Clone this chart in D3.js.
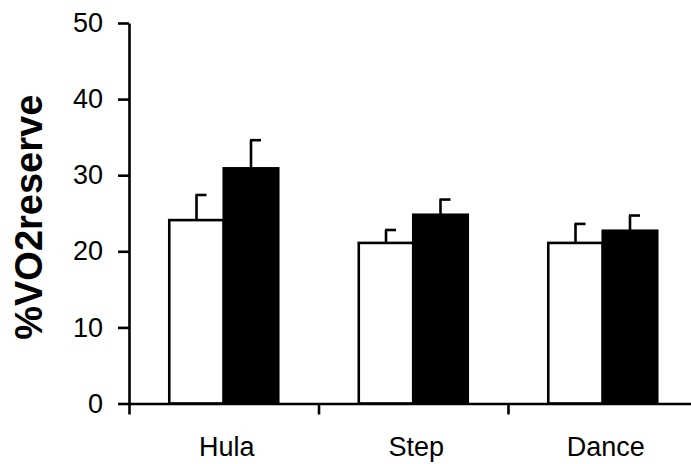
<!DOCTYPE html>
<html>
<head>
<meta charset="utf-8">
<script src="https://cdn.jsdelivr.net/npm/d3@7"></script>
<style>
  html, body { margin: 0; padding: 0; background: #fff; }
  svg { display: block; }
  text { font-family: Arial, "Liberation Sans", sans-serif; fill: #000; }
</style>
</head>
<body>
<svg id="chart" width="691" height="464"></svg>
<script>
// Activity categories and y-axis ticks
const categories = ["Hula", "Step", "Dance"];
const yTicks = [0, 10, 20, 30, 40, 50];

// Two conditions per activity: mean %VO2reserve and its SD
const openMeans = [24.1, 21.1, 21.1];
const openSD = [3.3, 1.7, 2.5];
const filledMeans = [30.9, 24.8, 22.7];
const filledSD = [3.7, 2.0, 2.0];

const series = [
  { key: "open", fill: "#ffffff", means: openMeans, sd: openSD },
  { key: "filled", fill: "#000000", means: filledMeans, sd: filledSD }
];

const svg = d3.select("#chart");
const plotLeft = 129, plotRight = 697.5, plotTop = 23, plotBottom = 403.5;
const lw = 2.6;

const y = d3.scaleLinear().domain([0, 50]).range([plotBottom, plotTop]);
const x = d3.scaleBand().domain(categories).range([plotLeft, plotRight]).padding(0);
const xEdge = d3.scaleLinear().domain([0, categories.length]).range([plotLeft, plotRight]);

const groupW = x.bandwidth() * 0.575;
const x1 = d3.scaleBand().domain(series.map(s => s.key))
  .range([(x.bandwidth() - groupW) / 2, (x.bandwidth() + groupW) / 2]).padding(0);

// Bars with upward SD whiskers
const groups = svg.append("g").selectAll("g")
  .data(categories).join("g")
  .attr("transform", d => `translate(${x(d)},0)`);

groups.each(function(cat, i) {
  const g = d3.select(this);
  series.forEach(s => {
    const m = s.means[i], e = s.sd[i];
    const bx = x1(s.key), bw = x1.bandwidth();
    g.append("rect")
      .attr("x", bx).attr("y", y(m))
      .attr("width", bw).attr("height", y(0) - y(m))
      .attr("fill", s.fill).attr("stroke", "#000").attr("stroke-width", lw);
    const cx = bx + bw / 2;
    g.append("line")
      .attr("x1", cx).attr("x2", cx)
      .attr("y1", y(m)).attr("y2", y(m + e))
      .attr("stroke", "#000").attr("stroke-width", lw);
    g.append("line")
      .attr("x1", cx - 1).attr("x2", cx + 10)
      .attr("y1", y(m + e)).attr("y2", y(m + e))
      .attr("stroke", "#000").attr("stroke-width", lw);
  });
});

// Y axis
const yAxis = svg.append("g")
  .attr("transform", `translate(${plotLeft},0)`)
  .call(d3.axisLeft(y).tickValues(yTicks).tickSize(11).tickSizeOuter(0).tickPadding(15));
yAxis.select(".domain").attr("stroke-width", lw);
yAxis.selectAll(".tick line").attr("stroke-width", lw);
yAxis.selectAll(".tick text")
  .style("font-size", "27px").style("font-family", "Arial, 'Liberation Sans', sans-serif");

// X axis: ticks at category boundaries, labels centred in each band
const xAxis = svg.append("g")
  .attr("transform", `translate(0,${plotBottom})`)
  .call(d3.axisBottom(xEdge).tickValues(d3.range(categories.length + 1))
    .tickSize(11).tickSizeOuter(0).tickFormat(""));
xAxis.select(".domain").attr("stroke-width", lw);
xAxis.selectAll(".tick line").attr("stroke-width", lw);

const xLabels = svg.append("g")
  .attr("transform", `translate(0,${plotBottom})`)
  .call(d3.axisBottom(x).tickSize(0).tickPadding(33));
xLabels.select(".domain").remove();
xLabels.selectAll(".tick text")
  .attr("dx", 3)
  .style("font-size", "27px").style("font-family", "Arial, 'Liberation Sans', sans-serif");

// Y axis title
svg.append("text")
  .attr("transform", `translate(42,${(plotTop + plotBottom) / 2 + 4}) rotate(-90)`)
  .attr("text-anchor", "middle")
  .style("font-size", "38px").style("font-weight", "bold")
  .text("%VO2reserve");
</script>
</body>
</html>
